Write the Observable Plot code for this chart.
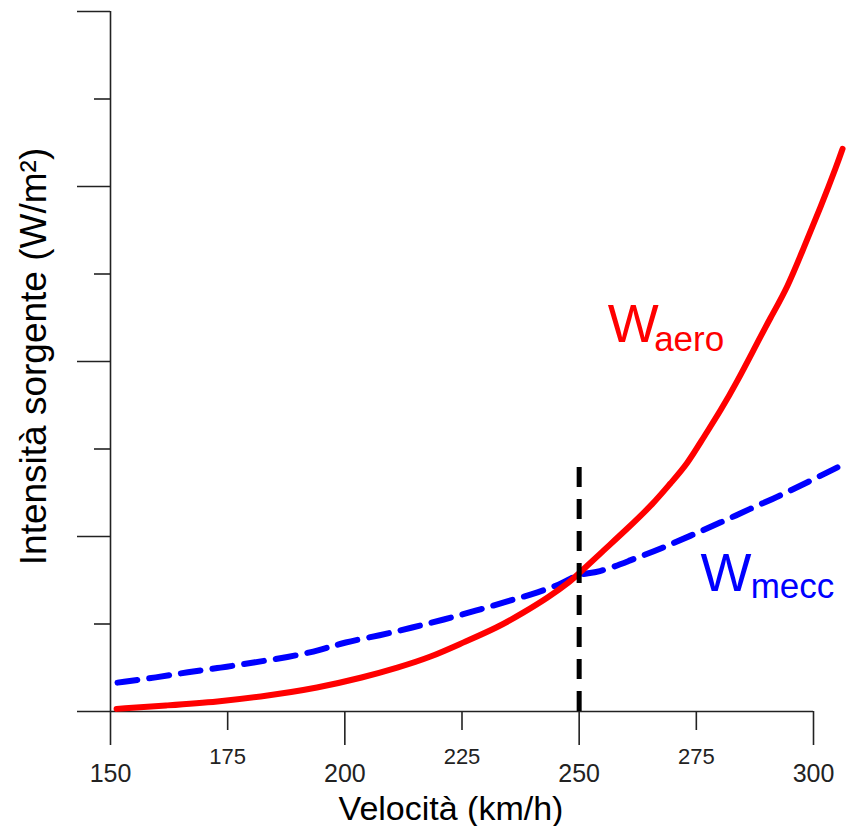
<!DOCTYPE html>
<html><head><meta charset="utf-8">
<script src="https://cdn.jsdelivr.net/npm/d3@7"></script>
<script src="https://cdn.jsdelivr.net/npm/@observablehq/plot@0.6"></script>
<style>body{margin:0;background:#fff}</style>
</head><body><div id="chart"></div>
<script>
// W aero (red, solid)
const speedAero = [151.3,162.2,172.8,183.5,194.2,204.0,211.2,218.3,225.3,232.6,238.1,243.3,248.2,250.0,255.2,260.3,265.9,269.5,273.1,276.5,280.2,283.8,287.2,290.8,294.5,297.9,301.5,305.1,306.2];
const wAero     = [0.03,0.07,0.11,0.18,0.27,0.39,0.50,0.62,0.79,0.96,1.13,1.30,1.49,1.58,1.84,2.09,2.38,2.61,2.83,3.13,3.44,3.78,4.13,4.50,4.85,5.30,5.76,6.26,6.43];
// W mecc (blue, dashed)
const speedMecc = [151.5,160,166.4,173.5,180.5,187.8,194.8,199.7,207.6,214.4,221.1,227.9,234.7,241.3,246.7,250.0,253.9,261.0,267.4,273.8,280.2,286.6,293.0,298.7,305.1];
const wMecc     = [0.33,0.39,0.45,0.50,0.56,0.62,0.70,0.79,0.87,0.96,1.05,1.15,1.26,1.36,1.47,1.58,1.58,1.73,1.86,2.01,2.16,2.32,2.47,2.62,2.79];
// reference speed
const refSpeed = [250];
const refTop = 2.81;
// ticks
const xMajor = [150,200,250,300];
const xMinor = [175,225,275];
const yMajor = [0,2,4,6,8];
const yMinor = [1,3,5,7];
// labels
const xTitle = "Velocità (km/h)";
const yTitle = "Intensità sorgente (W/m²)";
const labels = [
  {x: 256.1, y: 4.22, main: "W", sub: "aero", sx: 266.0, sy: 4.12, color: "#ff0000"},
  {x: 275.9, y: 1.38, main: "W", sub: "mecc", sx: 286.6, sy: 1.30, color: "#0000ff"}
];

const aero = speedAero.map((s,i) => ({s, w: wAero[i]}));
const mecc = speedMecc.map((s,i) => ({s, w: wMecc[i]}));
const axisColor = "#222";

const chart = Plot.plot({
  width: 852, height: 826,
  marginLeft: 110, marginRight: 39, marginTop: 11, marginBottom: 115,
  style: {fontFamily: "'Liberation Sans', Arial, sans-serif", color: axisColor, background: "#fff"},
  x: {domain: [150, 300]},
  y: {domain: [0, 8]},
  marks: [
    Plot.ruleX([150], {y1: 0, y2: 8, stroke: axisColor, strokeWidth: 1.6}),
    Plot.ruleY([0], {x1: 150, x2: 300, stroke: axisColor, strokeWidth: 1.6}),
    Plot.axisY(yMajor, {tickSize: 33, tickFormat: () => "", label: null, strokeWidth: 1.6}),
    Plot.axisY(yMinor, {tickSize: 16, tickFormat: () => "", label: null, strokeWidth: 1.6}),
    Plot.axisX(xMajor, {tickSize: 34, tickPadding: 19, fontSize: 25, label: null, strokeWidth: 1.6}),
    Plot.axisX(xMinor, {tickSize: 19, tickPadding: 18, fontSize: 22, label: null, strokeWidth: 1.6}),
    Plot.line(mecc, {x: "s", y: "w", stroke: "#0000ff", strokeWidth: 6, strokeDasharray: "20,12", curve: "basis"}),
    Plot.line(aero, {x: "s", y: "w", stroke: "#ff0000", strokeWidth: 6, curve: "basis"}),
    Plot.ruleX(refSpeed, {y1: 0, y2: refTop, stroke: "#000", strokeWidth: 5, strokeDasharray: "20,12"}),
    Plot.text(labels, {x: "x", y: "y", text: "main", fill: "color", fontSize: 54, textAnchor: "start", lineAnchor: "bottom"}),
    Plot.text(labels, {x: "sx", y: "sy", text: "sub", fill: "color", fontSize: 35, textAnchor: "start", lineAnchor: "bottom"}),
    Plot.text([xTitle], {frameAnchor: "bottom", dx: -11, dy: 108, fontSize: 34, lineAnchor: "bottom", fill: "#000"}),
    Plot.text([yTitle], {frameAnchor: "left", rotate: -90, dx: -65, dy: -5, fontSize: 37, lineAnchor: "bottom", textAnchor: "middle", fill: "#000"})
  ]
});
document.getElementById("chart").append(chart);
</script>
</body></html>
